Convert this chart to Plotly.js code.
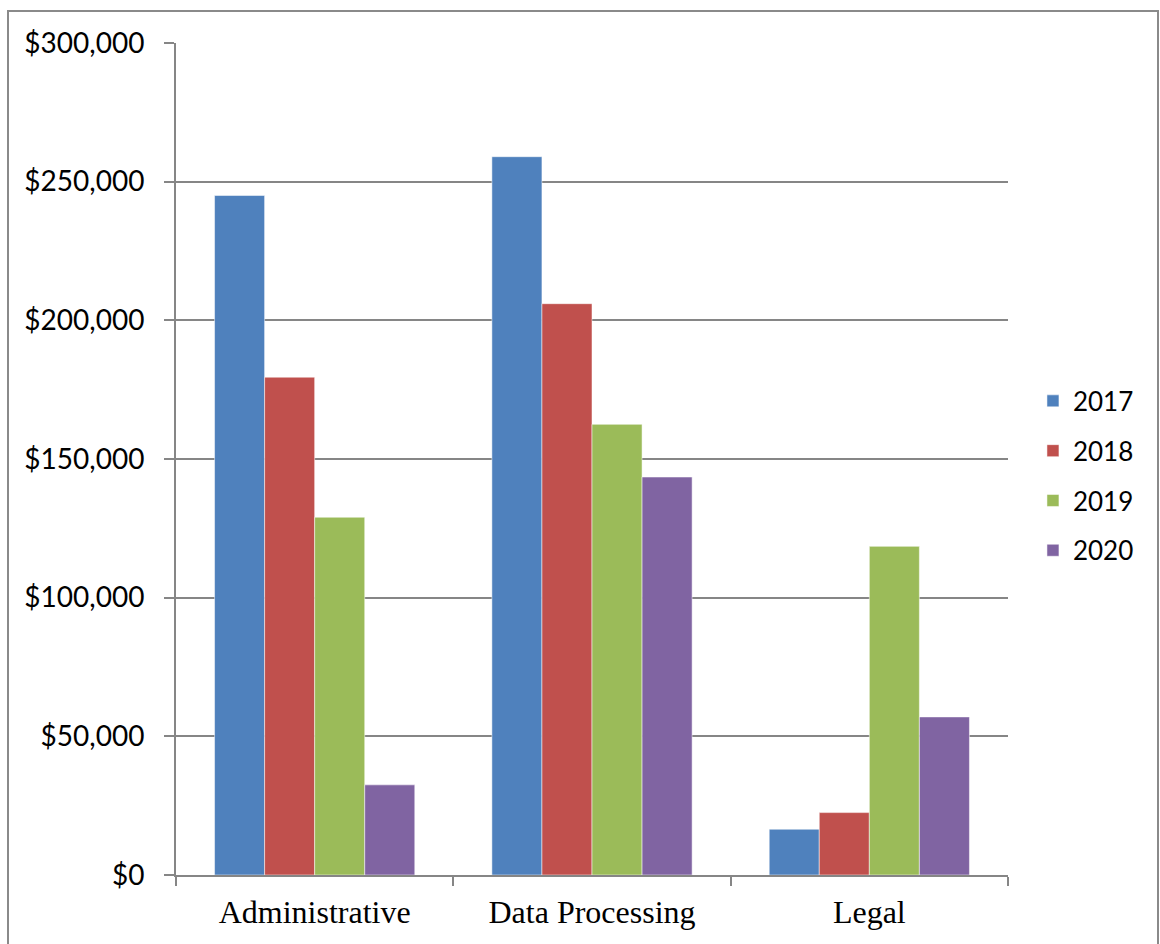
<!DOCTYPE html>
<html>
<head>
<meta charset="utf-8">
<script src="https://cdn.plot.ly/plotly-3.0.1.min.js"></script>
<style>
  html, body { margin: 0; padding: 0; background: #fff; }
  #frame { position: absolute; left: 7px; top: 10px; width: 1152px; height: 960px; border: 2px solid #8a8a8a; box-sizing: border-box; pointer-events: none; }
  #chart { position: absolute; left: 0; top: 0; width: 1160px; height: 944px; }
</style>
</head>
<body>
<div id="chart"></div>
<div id="frame"></div>
<script>
const categories = ["Administrative", "Data Processing", "Legal"];
const seriesNames = ["2017", "2018", "2019", "2020"];
const values2017 = [245000, 259000, 16500];
const values2018 = [179500, 206000, 22500];
const values2019 = [129000, 162500, 118500];
const values2020 = [32500, 143500, 57000];
const yTickVals = [0, 50000, 100000, 150000, 200000, 250000, 300000];
const yTickText = ["$0", "$50,000", "$100,000", "$150,000", "$200,000", "$250,000", "$300,000"];
const colors = ["#4F81BD", "#C0504D", "#9BBB59", "#8064A2"];

const allValues = [values2017, values2018, values2019, values2020];
const data = allValues.map((vals, i) => ({
  type: "bar",
  name: seriesNames[i],
  x: categories,
  y: vals,
  legendgroup: "g" + i,
  marker: { color: colors[i], line: { color: "rgba(255,255,255,0.5)", width: 1 } }
}));

const layout = {
  width: 1160,
  height: 944,
  margin: { l: 176, r: 152, t: 43, b: 69 },
  paper_bgcolor: "#ffffff",
  plot_bgcolor: "#ffffff",
  barmode: "group",
  bargap: 0.278,
  bargroupgap: 0,
  showlegend: true,
  legend: {
    x: 1.03, xanchor: "left",
    y: 0.598, yanchor: "top",
    font: { family: "Lato, 'Liberation Sans', sans-serif", size: 26, color: "#000" },
    tracegroupgap: 13,
    itemwidth: 30,
    bgcolor: "rgba(0,0,0,0)"
  },
  xaxis: {
    type: "category",
    showgrid: false,
    showline: true,
    linecolor: "#868686",
    linewidth: 2,
    ticks: "outside",
    tickson: "boundaries",
    ticklen: 9,
    tickwidth: 2,
    tickcolor: "#868686",
    tickfont: { family: "'Liberation Serif', 'Times New Roman', serif", size: 32, color: "#000" },
    ticklabelstandoff: 8
  },
  yaxis: {
    range: [0, 300000],
    tickvals: yTickVals,
    ticktext: yTickText,
    showgrid: true,
    gridcolor: "#868686",
    gridwidth: 2,
    showline: true,
    linecolor: "#868686",
    linewidth: 2,
    ticks: "outside",
    ticklen: 10,
    tickwidth: 2,
    tickcolor: "#868686",
    tickfont: { family: "Lato, 'Liberation Sans', sans-serif", size: 28, color: "#000" },
    ticklabelstandoff: 14,
    zeroline: false
  }
};

Plotly.newPlot("chart", data, layout, { displayModeBar: false, staticPlot: true });
</script>
</body>
</html>
